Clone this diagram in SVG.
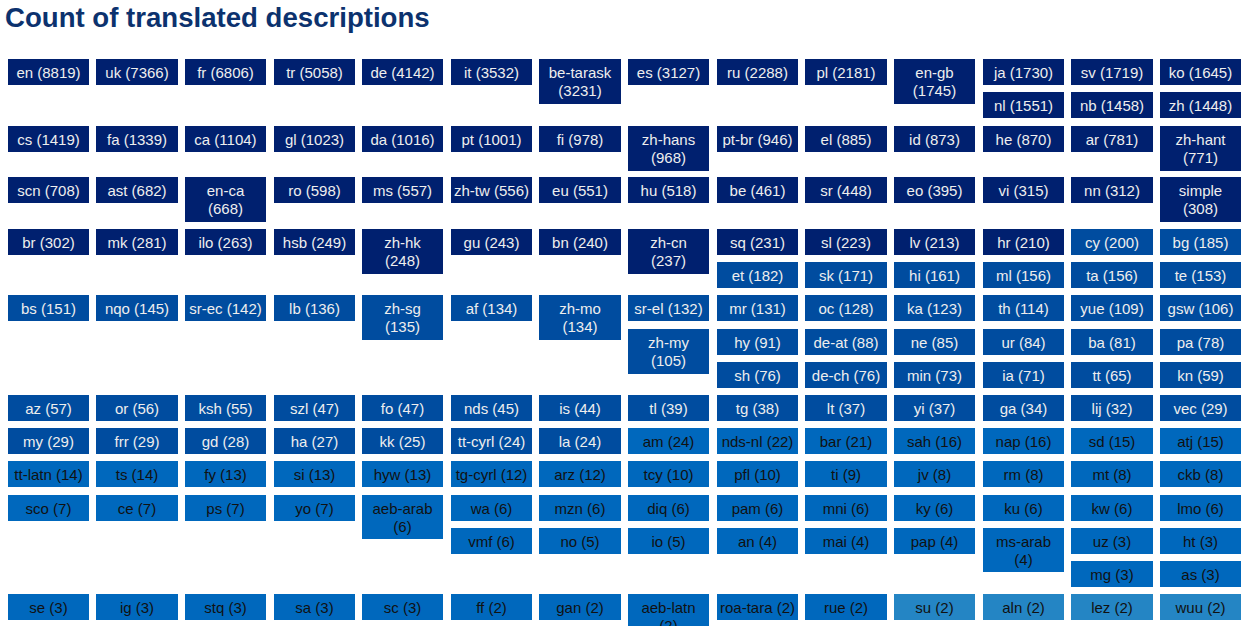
<svg xmlns="http://www.w3.org/2000/svg" width="1248" height="626" viewBox="0 0 1248 626">
<style>
text{font-family:"Liberation Sans",Arial,sans-serif;font-size:15px;text-anchor:middle}
.title{font-size:27.6px;font-weight:bold;fill:#0c326e;text-anchor:start}
.a{fill:#00206f}.b{fill:#004c9f}.c{fill:#0068bd}.d{fill:#2485c4}
.tl{fill:#eeeeee}.td{fill:#111111}
</style>
<rect width="1248" height="626" fill="#ffffff"/>
<text class="title" x="5" y="27">Count of translated descriptions</text>
<g id="nodes">
<g id="n-en"><rect class="a" x="8" y="59" width="81" height="26"/><text class="tl" x="48.5" y="77.5">en (8819)</text></g>
<g id="n-uk"><rect class="a" x="96" y="59" width="82" height="26"/><text class="tl" x="137" y="77.5">uk (7366)</text></g>
<g id="n-fr"><rect class="a" x="185" y="59" width="81" height="26"/><text class="tl" x="225.5" y="77.5">fr (6806)</text></g>
<g id="n-tr"><rect class="a" x="274" y="59" width="81" height="26"/><text class="tl" x="314.5" y="77.5">tr (5058)</text></g>
<g id="n-de"><rect class="a" x="362" y="59" width="81" height="26"/><text class="tl" x="402.5" y="77.5">de (4142)</text></g>
<g id="n-it"><rect class="a" x="451" y="59" width="81" height="26"/><text class="tl" x="491.5" y="77.5">it (3532)</text></g>
<g id="n-be-tarask"><rect class="a" x="539" y="59" width="82" height="45"/><text class="tl" x="580" y="77.5">be-tarask</text><text class="tl" x="580" y="96">(3231)</text></g>
<g id="n-es"><rect class="a" x="628" y="59" width="81" height="26"/><text class="tl" x="668.5" y="77.5">es (3127)</text></g>
<g id="n-ru"><rect class="a" x="717" y="59" width="81" height="26"/><text class="tl" x="757.5" y="77.5">ru (2288)</text></g>
<g id="n-pl"><rect class="a" x="805" y="59" width="82" height="26"/><text class="tl" x="846" y="77.5">pl (2181)</text></g>
<g id="n-en-gb"><rect class="a" x="894" y="59" width="81" height="45"/><text class="tl" x="934.5" y="77.5">en-gb</text><text class="tl" x="934.5" y="96">(1745)</text></g>
<g id="n-ja"><rect class="a" x="983" y="59" width="81" height="26"/><text class="tl" x="1023.5" y="77.5">ja (1730)</text></g>
<g id="n-sv"><rect class="a" x="1071" y="59" width="82" height="26"/><text class="tl" x="1112" y="77.5">sv (1719)</text></g>
<g id="n-ko"><rect class="a" x="1160" y="59" width="81" height="26"/><text class="tl" x="1200.5" y="77.5">ko (1645)</text></g>
<g id="n-nl"><rect class="a" x="983" y="92" width="81" height="26"/><text class="tl" x="1023.5" y="110.5">nl (1551)</text></g>
<g id="n-nb"><rect class="a" x="1071" y="92" width="82" height="26"/><text class="tl" x="1112" y="110.5">nb (1458)</text></g>
<g id="n-zh"><rect class="a" x="1160" y="92" width="81" height="26"/><text class="tl" x="1200.5" y="110.5">zh (1448)</text></g>

<g id="n-cs"><rect class="a" x="8" y="126" width="81" height="26"/><text class="tl" x="48.5" y="144.5">cs (1419)</text></g>
<g id="n-fa"><rect class="a" x="96" y="126" width="82" height="26"/><text class="tl" x="137" y="144.5">fa (1339)</text></g>
<g id="n-ca"><rect class="a" x="185" y="126" width="81" height="26"/><text class="tl" x="225.5" y="144.5">ca (1104)</text></g>
<g id="n-gl"><rect class="a" x="274" y="126" width="81" height="26"/><text class="tl" x="314.5" y="144.5">gl (1023)</text></g>
<g id="n-da"><rect class="a" x="362" y="126" width="81" height="26"/><text class="tl" x="402.5" y="144.5">da (1016)</text></g>
<g id="n-pt"><rect class="a" x="451" y="126" width="81" height="26"/><text class="tl" x="491.5" y="144.5">pt (1001)</text></g>
<g id="n-fi"><rect class="a" x="539" y="126" width="82" height="26"/><text class="tl" x="580" y="144.5">fi (978)</text></g>
<g id="n-zh-hans"><rect class="a" x="628" y="126" width="81" height="45"/><text class="tl" x="668.5" y="144.5">zh-hans</text><text class="tl" x="668.5" y="163">(968)</text></g>
<g id="n-pt-br"><rect class="a" x="717" y="126" width="81" height="26"/><text class="tl" x="757.5" y="144.5">pt-br (946)</text></g>
<g id="n-el"><rect class="a" x="805" y="126" width="82" height="26"/><text class="tl" x="846" y="144.5">el (885)</text></g>
<g id="n-id"><rect class="a" x="894" y="126" width="81" height="26"/><text class="tl" x="934.5" y="144.5">id (873)</text></g>
<g id="n-he"><rect class="a" x="983" y="126" width="81" height="26"/><text class="tl" x="1023.5" y="144.5">he (870)</text></g>
<g id="n-ar"><rect class="a" x="1071" y="126" width="82" height="26"/><text class="tl" x="1112" y="144.5">ar (781)</text></g>
<g id="n-zh-hant"><rect class="a" x="1160" y="126" width="81" height="45"/><text class="tl" x="1200.5" y="144.5">zh-hant</text><text class="tl" x="1200.5" y="163">(771)</text></g>

<g id="n-scn"><rect class="a" x="8" y="177" width="81" height="26"/><text class="tl" x="48.5" y="195.5">scn (708)</text></g>
<g id="n-ast"><rect class="a" x="96" y="177" width="82" height="26"/><text class="tl" x="137" y="195.5">ast (682)</text></g>
<g id="n-en-ca"><rect class="a" x="185" y="177" width="81" height="45"/><text class="tl" x="225.5" y="195.5">en-ca</text><text class="tl" x="225.5" y="214">(668)</text></g>
<g id="n-ro"><rect class="a" x="274" y="177" width="81" height="26"/><text class="tl" x="314.5" y="195.5">ro (598)</text></g>
<g id="n-ms"><rect class="a" x="362" y="177" width="81" height="26"/><text class="tl" x="402.5" y="195.5">ms (557)</text></g>
<g id="n-zh-tw"><rect class="a" x="451" y="177" width="81" height="26"/><text class="tl" x="491.5" y="195.5">zh-tw (556)</text></g>
<g id="n-eu"><rect class="a" x="539" y="177" width="82" height="26"/><text class="tl" x="580" y="195.5">eu (551)</text></g>
<g id="n-hu"><rect class="a" x="628" y="177" width="81" height="26"/><text class="tl" x="668.5" y="195.5">hu (518)</text></g>
<g id="n-be"><rect class="a" x="717" y="177" width="81" height="26"/><text class="tl" x="757.5" y="195.5">be (461)</text></g>
<g id="n-sr"><rect class="a" x="805" y="177" width="82" height="26"/><text class="tl" x="846" y="195.5">sr (448)</text></g>
<g id="n-eo"><rect class="a" x="894" y="177" width="81" height="26"/><text class="tl" x="934.5" y="195.5">eo (395)</text></g>
<g id="n-vi"><rect class="a" x="983" y="177" width="81" height="26"/><text class="tl" x="1023.5" y="195.5">vi (315)</text></g>
<g id="n-nn"><rect class="a" x="1071" y="177" width="82" height="26"/><text class="tl" x="1112" y="195.5">nn (312)</text></g>
<g id="n-simple"><rect class="a" x="1160" y="177" width="81" height="45"/><text class="tl" x="1200.5" y="195.5">simple</text><text class="tl" x="1200.5" y="214">(308)</text></g>

<g id="n-br"><rect class="a" x="8" y="229" width="81" height="26"/><text class="tl" x="48.5" y="247.5">br (302)</text></g>
<g id="n-mk"><rect class="a" x="96" y="229" width="82" height="26"/><text class="tl" x="137" y="247.5">mk (281)</text></g>
<g id="n-ilo"><rect class="a" x="185" y="229" width="81" height="26"/><text class="tl" x="225.5" y="247.5">ilo (263)</text></g>
<g id="n-hsb"><rect class="a" x="274" y="229" width="81" height="26"/><text class="tl" x="314.5" y="247.5">hsb (249)</text></g>
<g id="n-zh-hk"><rect class="a" x="362" y="229" width="81" height="45"/><text class="tl" x="402.5" y="247.5">zh-hk</text><text class="tl" x="402.5" y="266">(248)</text></g>
<g id="n-gu"><rect class="a" x="451" y="229" width="81" height="26"/><text class="tl" x="491.5" y="247.5">gu (243)</text></g>
<g id="n-bn"><rect class="a" x="539" y="229" width="82" height="26"/><text class="tl" x="580" y="247.5">bn (240)</text></g>
<g id="n-zh-cn"><rect class="a" x="628" y="229" width="81" height="45"/><text class="tl" x="668.5" y="247.5">zh-cn</text><text class="tl" x="668.5" y="266">(237)</text></g>
<g id="n-sq"><rect class="a" x="717" y="229" width="81" height="26"/><text class="tl" x="757.5" y="247.5">sq (231)</text></g>
<g id="n-sl"><rect class="a" x="805" y="229" width="82" height="26"/><text class="tl" x="846" y="247.5">sl (223)</text></g>
<g id="n-lv"><rect class="a" x="894" y="229" width="81" height="26"/><text class="tl" x="934.5" y="247.5">lv (213)</text></g>
<g id="n-hr"><rect class="a" x="983" y="229" width="81" height="26"/><text class="tl" x="1023.5" y="247.5">hr (210)</text></g>
<g id="n-cy"><rect class="b" x="1071" y="229" width="82" height="26"/><text class="tl" x="1112" y="247.5">cy (200)</text></g>
<g id="n-bg"><rect class="b" x="1160" y="229" width="81" height="26"/><text class="tl" x="1200.5" y="247.5">bg (185)</text></g>
<g id="n-et"><rect class="b" x="717" y="262" width="81" height="26"/><text class="tl" x="757.5" y="280.5">et (182)</text></g>
<g id="n-sk"><rect class="b" x="805" y="262" width="82" height="26"/><text class="tl" x="846" y="280.5">sk (171)</text></g>
<g id="n-hi"><rect class="b" x="894" y="262" width="81" height="26"/><text class="tl" x="934.5" y="280.5">hi (161)</text></g>
<g id="n-ml"><rect class="b" x="983" y="262" width="81" height="26"/><text class="tl" x="1023.5" y="280.5">ml (156)</text></g>
<g id="n-ta"><rect class="b" x="1071" y="262" width="82" height="26"/><text class="tl" x="1112" y="280.5">ta (156)</text></g>
<g id="n-te"><rect class="b" x="1160" y="262" width="81" height="26"/><text class="tl" x="1200.5" y="280.5">te (153)</text></g>

<g id="n-bs"><rect class="b" x="8" y="295" width="81" height="26"/><text class="tl" x="48.5" y="313.5">bs (151)</text></g>
<g id="n-nqo"><rect class="b" x="96" y="295" width="82" height="26"/><text class="tl" x="137" y="313.5">nqo (145)</text></g>
<g id="n-sr-ec"><rect class="b" x="185" y="295" width="81" height="26"/><text class="tl" x="225.5" y="313.5">sr-ec (142)</text></g>
<g id="n-lb"><rect class="b" x="274" y="295" width="81" height="26"/><text class="tl" x="314.5" y="313.5">lb (136)</text></g>
<g id="n-zh-sg"><rect class="b" x="362" y="295" width="81" height="45"/><text class="tl" x="402.5" y="313.5">zh-sg</text><text class="tl" x="402.5" y="332">(135)</text></g>
<g id="n-af"><rect class="b" x="451" y="295" width="81" height="26"/><text class="tl" x="491.5" y="313.5">af (134)</text></g>
<g id="n-zh-mo"><rect class="b" x="539" y="295" width="82" height="45"/><text class="tl" x="580" y="313.5">zh-mo</text><text class="tl" x="580" y="332">(134)</text></g>
<g id="n-sr-el"><rect class="b" x="628" y="295" width="81" height="26"/><text class="tl" x="668.5" y="313.5">sr-el (132)</text></g>
<g id="n-mr"><rect class="b" x="717" y="295" width="81" height="26"/><text class="tl" x="757.5" y="313.5">mr (131)</text></g>
<g id="n-oc"><rect class="b" x="805" y="295" width="82" height="26"/><text class="tl" x="846" y="313.5">oc (128)</text></g>
<g id="n-ka"><rect class="b" x="894" y="295" width="81" height="26"/><text class="tl" x="934.5" y="313.5">ka (123)</text></g>
<g id="n-th"><rect class="b" x="983" y="295" width="81" height="26"/><text class="tl" x="1023.5" y="313.5">th (114)</text></g>
<g id="n-yue"><rect class="b" x="1071" y="295" width="82" height="26"/><text class="tl" x="1112" y="313.5">yue (109)</text></g>
<g id="n-gsw"><rect class="b" x="1160" y="295" width="81" height="26"/><text class="tl" x="1200.5" y="313.5">gsw (106)</text></g>
<g id="n-zh-my"><rect class="b" x="628" y="329" width="81" height="45"/><text class="tl" x="668.5" y="347.5">zh-my</text><text class="tl" x="668.5" y="366">(105)</text></g>
<g id="n-hy"><rect class="b" x="717" y="329" width="81" height="26"/><text class="tl" x="757.5" y="347.5">hy (91)</text></g>
<g id="n-de-at"><rect class="b" x="805" y="329" width="82" height="26"/><text class="tl" x="846" y="347.5">de-at (88)</text></g>
<g id="n-ne"><rect class="b" x="894" y="329" width="81" height="26"/><text class="tl" x="934.5" y="347.5">ne (85)</text></g>
<g id="n-ur"><rect class="b" x="983" y="329" width="81" height="26"/><text class="tl" x="1023.5" y="347.5">ur (84)</text></g>
<g id="n-ba"><rect class="b" x="1071" y="329" width="82" height="26"/><text class="tl" x="1112" y="347.5">ba (81)</text></g>
<g id="n-pa"><rect class="b" x="1160" y="329" width="81" height="26"/><text class="tl" x="1200.5" y="347.5">pa (78)</text></g>
<g id="n-sh"><rect class="b" x="717" y="362" width="81" height="26"/><text class="tl" x="757.5" y="380.5">sh (76)</text></g>
<g id="n-de-ch"><rect class="b" x="805" y="362" width="82" height="26"/><text class="tl" x="846" y="380.5">de-ch (76)</text></g>
<g id="n-min"><rect class="b" x="894" y="362" width="81" height="26"/><text class="tl" x="934.5" y="380.5">min (73)</text></g>
<g id="n-ia"><rect class="b" x="983" y="362" width="81" height="26"/><text class="tl" x="1023.5" y="380.5">ia (71)</text></g>
<g id="n-tt"><rect class="b" x="1071" y="362" width="82" height="26"/><text class="tl" x="1112" y="380.5">tt (65)</text></g>
<g id="n-kn"><rect class="b" x="1160" y="362" width="81" height="26"/><text class="tl" x="1200.5" y="380.5">kn (59)</text></g>

<g id="n-az"><rect class="b" x="8" y="395" width="81" height="26"/><text class="tl" x="48.5" y="413.5">az (57)</text></g>
<g id="n-or"><rect class="b" x="96" y="395" width="82" height="26"/><text class="tl" x="137" y="413.5">or (56)</text></g>
<g id="n-ksh"><rect class="b" x="185" y="395" width="81" height="26"/><text class="tl" x="225.5" y="413.5">ksh (55)</text></g>
<g id="n-szl"><rect class="b" x="274" y="395" width="81" height="26"/><text class="tl" x="314.5" y="413.5">szl (47)</text></g>
<g id="n-fo"><rect class="b" x="362" y="395" width="81" height="26"/><text class="tl" x="402.5" y="413.5">fo (47)</text></g>
<g id="n-nds"><rect class="b" x="451" y="395" width="81" height="26"/><text class="tl" x="491.5" y="413.5">nds (45)</text></g>
<g id="n-is"><rect class="b" x="539" y="395" width="82" height="26"/><text class="tl" x="580" y="413.5">is (44)</text></g>
<g id="n-tl"><rect class="b" x="628" y="395" width="81" height="26"/><text class="tl" x="668.5" y="413.5">tl (39)</text></g>
<g id="n-tg"><rect class="b" x="717" y="395" width="81" height="26"/><text class="tl" x="757.5" y="413.5">tg (38)</text></g>
<g id="n-lt"><rect class="b" x="805" y="395" width="82" height="26"/><text class="tl" x="846" y="413.5">lt (37)</text></g>
<g id="n-yi"><rect class="b" x="894" y="395" width="81" height="26"/><text class="tl" x="934.5" y="413.5">yi (37)</text></g>
<g id="n-ga"><rect class="b" x="983" y="395" width="81" height="26"/><text class="tl" x="1023.5" y="413.5">ga (34)</text></g>
<g id="n-lij"><rect class="b" x="1071" y="395" width="82" height="26"/><text class="tl" x="1112" y="413.5">lij (32)</text></g>
<g id="n-vec"><rect class="b" x="1160" y="395" width="81" height="26"/><text class="tl" x="1200.5" y="413.5">vec (29)</text></g>
<g id="n-my"><rect class="b" x="8" y="428" width="81" height="26"/><text class="tl" x="48.5" y="446.5">my (29)</text></g>
<g id="n-frr"><rect class="b" x="96" y="428" width="82" height="26"/><text class="tl" x="137" y="446.5">frr (29)</text></g>
<g id="n-gd"><rect class="b" x="185" y="428" width="81" height="26"/><text class="tl" x="225.5" y="446.5">gd (28)</text></g>
<g id="n-ha"><rect class="b" x="274" y="428" width="81" height="26"/><text class="tl" x="314.5" y="446.5">ha (27)</text></g>
<g id="n-kk"><rect class="b" x="362" y="428" width="81" height="26"/><text class="tl" x="402.5" y="446.5">kk (25)</text></g>
<g id="n-tt-cyrl"><rect class="b" x="451" y="428" width="81" height="26"/><text class="tl" x="491.5" y="446.5">tt-cyrl (24)</text></g>
<g id="n-la"><rect class="b" x="539" y="428" width="82" height="26"/><text class="tl" x="580" y="446.5">la (24)</text></g>
<g id="n-am"><rect class="c" x="628" y="428" width="81" height="26"/><text class="td" x="668.5" y="446.5">am (24)</text></g>
<g id="n-nds-nl"><rect class="c" x="717" y="428" width="81" height="26"/><text class="td" x="757.5" y="446.5">nds-nl (22)</text></g>
<g id="n-bar"><rect class="c" x="805" y="428" width="82" height="26"/><text class="td" x="846" y="446.5">bar (21)</text></g>
<g id="n-sah"><rect class="c" x="894" y="428" width="81" height="26"/><text class="td" x="934.5" y="446.5">sah (16)</text></g>
<g id="n-nap"><rect class="c" x="983" y="428" width="81" height="26"/><text class="td" x="1023.5" y="446.5">nap (16)</text></g>
<g id="n-sd"><rect class="c" x="1071" y="428" width="82" height="26"/><text class="td" x="1112" y="446.5">sd (15)</text></g>
<g id="n-atj"><rect class="c" x="1160" y="428" width="81" height="26"/><text class="td" x="1200.5" y="446.5">atj (15)</text></g>
<g id="n-tt-latn"><rect class="c" x="8" y="461" width="81" height="26"/><text class="td" x="48.5" y="479.5">tt-latn (14)</text></g>
<g id="n-ts"><rect class="c" x="96" y="461" width="82" height="26"/><text class="td" x="137" y="479.5">ts (14)</text></g>
<g id="n-fy"><rect class="c" x="185" y="461" width="81" height="26"/><text class="td" x="225.5" y="479.5">fy (13)</text></g>
<g id="n-si"><rect class="c" x="274" y="461" width="81" height="26"/><text class="td" x="314.5" y="479.5">si (13)</text></g>
<g id="n-hyw"><rect class="c" x="362" y="461" width="81" height="26"/><text class="td" x="402.5" y="479.5">hyw (13)</text></g>
<g id="n-tg-cyrl"><rect class="c" x="451" y="461" width="81" height="26"/><text class="td" x="491.5" y="479.5">tg-cyrl (12)</text></g>
<g id="n-arz"><rect class="c" x="539" y="461" width="82" height="26"/><text class="td" x="580" y="479.5">arz (12)</text></g>
<g id="n-tcy"><rect class="c" x="628" y="461" width="81" height="26"/><text class="td" x="668.5" y="479.5">tcy (10)</text></g>
<g id="n-pfl"><rect class="c" x="717" y="461" width="81" height="26"/><text class="td" x="757.5" y="479.5">pfl (10)</text></g>
<g id="n-ti"><rect class="c" x="805" y="461" width="82" height="26"/><text class="td" x="846" y="479.5">ti (9)</text></g>
<g id="n-jv"><rect class="c" x="894" y="461" width="81" height="26"/><text class="td" x="934.5" y="479.5">jv (8)</text></g>
<g id="n-rm"><rect class="c" x="983" y="461" width="81" height="26"/><text class="td" x="1023.5" y="479.5">rm (8)</text></g>
<g id="n-mt"><rect class="c" x="1071" y="461" width="82" height="26"/><text class="td" x="1112" y="479.5">mt (8)</text></g>
<g id="n-ckb"><rect class="c" x="1160" y="461" width="81" height="26"/><text class="td" x="1200.5" y="479.5">ckb (8)</text></g>
<g id="n-sco"><rect class="c" x="8" y="495" width="81" height="26"/><text class="td" x="48.5" y="513.5">sco (7)</text></g>
<g id="n-ce"><rect class="c" x="96" y="495" width="82" height="26"/><text class="td" x="137" y="513.5">ce (7)</text></g>
<g id="n-ps"><rect class="c" x="185" y="495" width="81" height="26"/><text class="td" x="225.5" y="513.5">ps (7)</text></g>
<g id="n-yo"><rect class="c" x="274" y="495" width="81" height="26"/><text class="td" x="314.5" y="513.5">yo (7)</text></g>
<g id="n-aeb-arab"><rect class="c" x="362" y="495" width="81" height="44"/><text class="td" x="402.5" y="513.5">aeb-arab</text><text class="td" x="402.5" y="532">(6)</text></g>
<g id="n-wa"><rect class="c" x="451" y="495" width="81" height="26"/><text class="td" x="491.5" y="513.5">wa (6)</text></g>
<g id="n-mzn"><rect class="c" x="539" y="495" width="82" height="26"/><text class="td" x="580" y="513.5">mzn (6)</text></g>
<g id="n-diq"><rect class="c" x="628" y="495" width="81" height="26"/><text class="td" x="668.5" y="513.5">diq (6)</text></g>
<g id="n-pam"><rect class="c" x="717" y="495" width="81" height="26"/><text class="td" x="757.5" y="513.5">pam (6)</text></g>
<g id="n-mni"><rect class="c" x="805" y="495" width="82" height="26"/><text class="td" x="846" y="513.5">mni (6)</text></g>
<g id="n-ky"><rect class="c" x="894" y="495" width="81" height="26"/><text class="td" x="934.5" y="513.5">ky (6)</text></g>
<g id="n-ku"><rect class="c" x="983" y="495" width="81" height="26"/><text class="td" x="1023.5" y="513.5">ku (6)</text></g>
<g id="n-kw"><rect class="c" x="1071" y="495" width="82" height="26"/><text class="td" x="1112" y="513.5">kw (6)</text></g>
<g id="n-lmo"><rect class="c" x="1160" y="495" width="81" height="26"/><text class="td" x="1200.5" y="513.5">lmo (6)</text></g>
<g id="n-vmf"><rect class="c" x="451" y="528" width="81" height="26"/><text class="td" x="491.5" y="546.5">vmf (6)</text></g>
<g id="n-no"><rect class="c" x="539" y="528" width="82" height="26"/><text class="td" x="580" y="546.5">no (5)</text></g>
<g id="n-io"><rect class="c" x="628" y="528" width="81" height="26"/><text class="td" x="668.5" y="546.5">io (5)</text></g>
<g id="n-an"><rect class="c" x="717" y="528" width="81" height="26"/><text class="td" x="757.5" y="546.5">an (4)</text></g>
<g id="n-mai"><rect class="c" x="805" y="528" width="82" height="26"/><text class="td" x="846" y="546.5">mai (4)</text></g>
<g id="n-pap"><rect class="c" x="894" y="528" width="81" height="26"/><text class="td" x="934.5" y="546.5">pap (4)</text></g>
<g id="n-ms-arab"><rect class="c" x="983" y="528" width="81" height="44"/><text class="td" x="1023.5" y="546.5">ms-arab</text><text class="td" x="1023.5" y="565">(4)</text></g>
<g id="n-uz"><rect class="c" x="1071" y="528" width="82" height="26"/><text class="td" x="1112" y="546.5">uz (3)</text></g>
<g id="n-ht"><rect class="c" x="1160" y="528" width="81" height="26"/><text class="td" x="1200.5" y="546.5">ht (3)</text></g>
<g id="n-mg"><rect class="c" x="1071" y="561" width="82" height="26"/><text class="td" x="1112" y="579.5">mg (3)</text></g>
<g id="n-as"><rect class="c" x="1160" y="561" width="81" height="26"/><text class="td" x="1200.5" y="579.5">as (3)</text></g>

<g id="n-se"><rect class="c" x="8" y="594" width="81" height="26"/><text class="td" x="48.5" y="612.5">se (3)</text></g>
<g id="n-ig"><rect class="c" x="96" y="594" width="82" height="26"/><text class="td" x="137" y="612.5">ig (3)</text></g>
<g id="n-stq"><rect class="c" x="185" y="594" width="81" height="26"/><text class="td" x="225.5" y="612.5">stq (3)</text></g>
<g id="n-sa"><rect class="c" x="274" y="594" width="81" height="26"/><text class="td" x="314.5" y="612.5">sa (3)</text></g>
<g id="n-sc"><rect class="c" x="362" y="594" width="81" height="26"/><text class="td" x="402.5" y="612.5">sc (3)</text></g>
<g id="n-ff"><rect class="c" x="451" y="594" width="81" height="26"/><text class="td" x="491.5" y="612.5">ff (2)</text></g>
<g id="n-gan"><rect class="c" x="539" y="594" width="82" height="26"/><text class="td" x="580" y="612.5">gan (2)</text></g>
<g id="n-aeb-latn"><rect class="c" x="628" y="594" width="81" height="45"/><text class="td" x="668.5" y="612.5">aeb-latn</text><text class="td" x="668.5" y="631">(2)</text></g>
<g id="n-roa-tara"><rect class="c" x="717" y="594" width="81" height="26"/><text class="td" x="757.5" y="612.5">roa-tara (2)</text></g>
<g id="n-rue"><rect class="c" x="805" y="594" width="82" height="26"/><text class="td" x="846" y="612.5">rue (2)</text></g>
<g id="n-su"><rect class="d" x="894" y="594" width="81" height="26"/><text class="td" x="934.5" y="612.5">su (2)</text></g>
<g id="n-aln"><rect class="d" x="983" y="594" width="81" height="26"/><text class="td" x="1023.5" y="612.5">aln (2)</text></g>
<g id="n-lez"><rect class="d" x="1071" y="594" width="82" height="26"/><text class="td" x="1112" y="612.5">lez (2)</text></g>
<g id="n-wuu"><rect class="d" x="1160" y="594" width="81" height="26"/><text class="td" x="1200.5" y="612.5">wuu (2)</text></g>
</g>
</svg>
